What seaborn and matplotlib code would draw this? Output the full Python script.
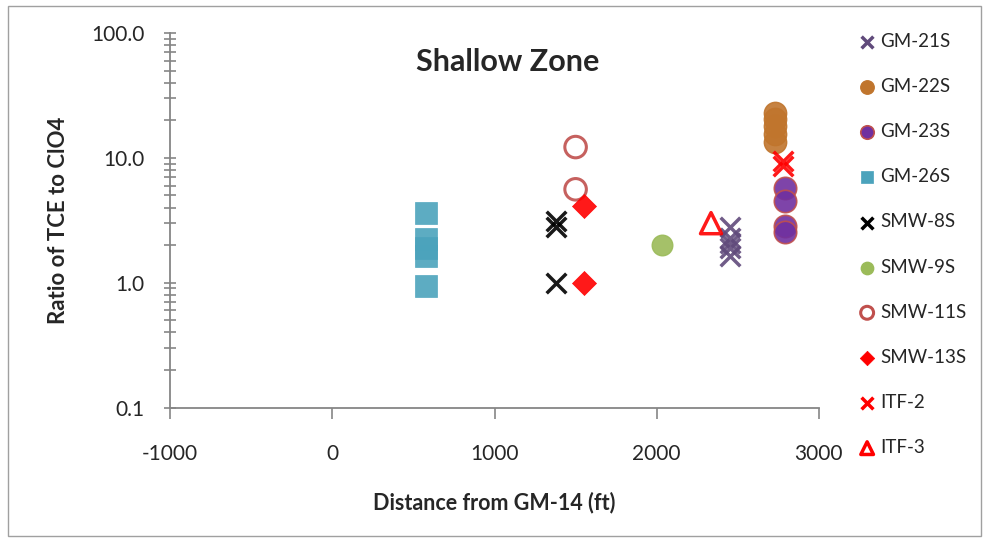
import matplotlib
matplotlib.use("Agg")
import matplotlib.pyplot as plt
import matplotlib.ticker as mticker
from matplotlib.patches import Rectangle
import seaborn as sns
import pandas as pd

# Data
wells = ["GM-21S", "GM-22S", "GM-23S", "GM-26S", "SMW-8S",
         "SMW-9S", "SMW-11S", "SMW-13S", "ITF-2", "ITF-3"]

gm21s_x = [2450, 2450, 2450, 2450, 2450]
gm21s_y = [2.8, 2.3, 2.1, 1.9, 1.65]
gm22s_x = [2730, 2730, 2730, 2730, 2730]
gm22s_y = [23.0, 20.5, 18.0, 15.5, 13.5]
gm23s_x = [2790, 2790, 2790, 2790]
gm23s_y = [5.7, 4.5, 2.85, 2.55]
gm26s_x = [580, 580, 580, 580, 580]
gm26s_y = [3.6, 2.25, 1.9, 1.65, 0.95]
smw8s_x = [1380, 1380, 1380]
smw8s_y = [3.1, 2.8, 1.0]
smw9s_x = [2030]
smw9s_y = [2.0]
smw11s_x = [1500, 1500]
smw11s_y = [12.2, 5.6]
smw13s_x = [1550, 1550]
smw13s_y = [4.1, 1.0]
itf2_x = [2780, 2780]
itf2_y = [9.4, 8.6]
itf3_x = [2335]
itf3_y = [3.0]

series = {
    "GM-21S": (gm21s_x, gm21s_y),
    "GM-22S": (gm22s_x, gm22s_y),
    "GM-23S": (gm23s_x, gm23s_y),
    "GM-26S": (gm26s_x, gm26s_y),
    "SMW-8S": (smw8s_x, smw8s_y),
    "SMW-9S": (smw9s_x, smw9s_y),
    "SMW-11S": (smw11s_x, smw11s_y),
    "SMW-13S": (smw13s_x, smw13s_y),
    "ITF-2": (itf2_x, itf2_y),
    "ITF-3": (itf3_x, itf3_y),
}

# marker, face colour, edge colour, size, line width
styles = {
    "GM-21S": ("x", "#604A7B", "#604A7B", 200, 2.5),
    "GM-22S": ("o", "#C0752D", "#C0752D", 260, 1.0),
    "GM-23S": ("o", "#7030A0", "#C0504D", 260, 1.2),
    "GM-26S": ("s", "#4BA3BC", "#4BA3BC", 240, 0.5),
    "SMW-8S": ("x", "black", "black", 200, 2.5),
    "SMW-9S": ("o", "#9BBB59", "#9BBB59", 220, 1.0),
    "SMW-11S": ("o", "none", "#C0504D", 240, 2.2),
    "SMW-13S": ("D", "#FF0000", "#FF0000", 150, 0.5),
    "ITF-2": ("x", "#FF0000", "#FF0000", 200, 2.5),
    "ITF-3": ("^", "none", "#FF0000", 230, 2.5),
}

sns.set_style("white")
plt.rcParams["font.family"] = ["Lato", "DejaVu Sans"]
plt.rcParams["axes.unicode_minus"] = False

fig = plt.figure(figsize=(9.89, 5.4), dpi=100)
ax = fig.add_axes([0.172, 0.245, 0.656, 0.694])

for name in wells:
    xs, ys = series[name]
    m, fc, ec, s, lw = styles[name]
    df = pd.DataFrame({"x": xs, "y": ys})
    if m == "x":
        sns.scatterplot(data=df, x="x", y="y", ax=ax, marker=m, s=s,
                        color=fc, linewidth=lw, label=name, alpha=0.9)
    else:
        sns.scatterplot(data=df, x="x", y="y", ax=ax, marker=m, s=s,
                        facecolor=fc, edgecolor=ec, linewidth=lw,
                        label=name, alpha=0.9)

ax.set_yscale("log")
ax.set_ylim(0.1, 100)
ax.set_xlim(-1000, 3000)
ax.set_xticks([-1000, 0, 1000, 2000, 3000])
ax.yaxis.set_major_formatter(mticker.FormatStrFormatter("%.1f"))
ax.yaxis.set_minor_locator(mticker.LogLocator(base=10, subs=range(2, 10)))
ax.yaxis.set_minor_formatter(mticker.NullFormatter())

gray = "#868686"
for side in ["top", "right"]:
    ax.spines[side].set_visible(False)
for side in ["left", "bottom"]:
    ax.spines[side].set_color(gray)
    ax.spines[side].set_linewidth(1.3)

ax.tick_params(axis="y", which="both", direction="inout", length=9,
               width=1.2, color=gray, labelsize=15, pad=14, left=True)
ax.tick_params(axis="x", which="major", direction="out", length=8,
               width=1.2, color=gray, labelsize=15, pad=18, bottom=True)

ax.set_xlabel("Distance from GM-14 (ft)", fontsize=15.5, fontweight="bold",
              labelpad=20)
ax.set_ylabel("Ratio of TCE to ClO4", fontsize=16, fontweight="bold",
              labelpad=16)
ax.text(0.52, 0.923, "Shallow Zone", transform=ax.transAxes, ha="center",
        va="center", fontsize=22, fontweight="bold")

leg = ax.legend(loc="upper left", bbox_to_anchor=(1.031, 1.045), frameon=False,
                fontsize=13.5, labelspacing=1.5, handletextpad=0.1,
                markerscale=0.6, handlelength=1.2)
for h in leg.legend_handles:
    h.set_alpha(1)

fig.patches.append(Rectangle((0.008, 0.008), 0.984, 0.981,
                             transform=fig.transFigure, fill=False,
                             edgecolor="#A0A0A0", linewidth=1))

fig.savefig("out.png", dpi=100)
